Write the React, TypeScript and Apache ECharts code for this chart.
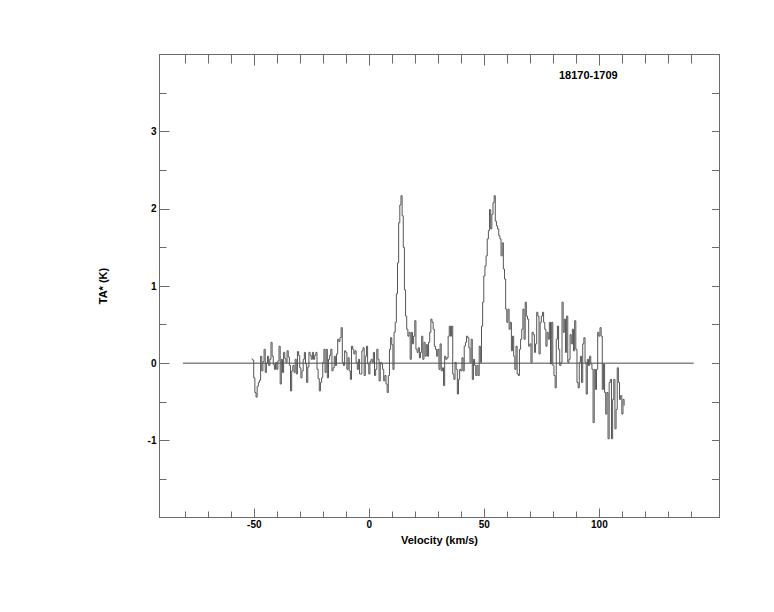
import React, { useEffect, useRef } from "react";
import * as echarts from "echarts";

const SOURCE_NAME = "18170-1709";
const X_NAME = "Velocity (km/s)";
const Y_NAME = "TA* (K)";

// spectrum channels: velocity of first channel and channel width (km/s)
const VELOCITY_START = -51.0;
const CHANNEL_WIDTH = 0.5;

// antenna temperature (K), -51.0 .. -11.5 km/s
const TA_BLUE = [
  0.06, 0.04, -0.19, -0.38, -0.44, -0.3, -0.25, -0.22, 0.09, -0.1, 0.02, 0.18, -0.12, 0.0, 0.09, -0.03, 0.05, 0.27, 0.09, -0.02,
  -0.08, 0.01, -0.08, 0.03, 0.22, -0.27, 0.05, -0.12, 0.14, 0.06, 0.01, 0.16, 0.08, -0.03, -0.36, -0.1, -0.03, -0.12, 0.05, -0.14,
  0.15, 0.1, -0.06, -0.19, -0.1, 0.05, 0.14, -0.01, -0.25, -0.05, 0.14, 0.1, 0.05, 0.14, 0.05, 0.1, 0.14, -0.08, -0.2, -0.36,
  -0.25, -0.19, 0.01, 0.18, -0.12, 0.18, -0.19, 0.05, 0.1, 0.18, -0.1, -0.06, 0.09, -0.03, 0.12, 0.31, 0.28, 0.33, 0.46, 0.01,
];
// -11.0 .. 28.5 km/s
const TA_PEAK1 = [
  -0.03, 0.16, 0.14, -0.08, 0.07, -0.1, -0.21, 0.22, 0.18, 0.12, 0.16, 0.01, -0.08, 0.05, -0.14, -0.14, 0.16, 0.2, -0.16, 0.09,
  0.22, -0.01, -0.14, 0.02, 0.05, 0.01, 0.14, -0.16, -0.08, 0.18, 0.05, -0.23, 0.01, -0.01, -0.08, -0.23, -0.16, -0.27, -0.38, -0.16,
  0.18, 0.33, 0.24, -0.08, 0.4, 0.53, 0.9, 1.3, 1.82, 2.05, 2.17, 1.91, 1.5, 0.95, 0.61, 0.44, 0.35, 0.4, 0.05, 0.4,
  0.25, 0.35, 0.55, 0.18, 0.14, 0.2, 0.07, 0.14, 0.35, 0.05, 0.27, 0.09, 0.24, 0.09, 0.27, 0.4, 0.57, 0.53, 0.44, 0.22,
];
// 29.0 .. 68.5 km/s
const TA_PEAK2 = [
  0.18, 0.09, 0.18, -0.08, 0.25, -0.1, -0.06, -0.29, 0.09, 0.05, 0.07, 0.35, 0.48, 0.35, 0.48, -0.14, -0.21, 0.01, -0.08, -0.4,
  -0.21, -0.08, -0.1, 0.07, -0.1, 0.22, 0.27, 0.35, 0.33, 0.2, 0.01, 0.31, -0.21, 0.05, -0.03, -0.16, -0.03, -0.16, 0.22, 0.01,
  0.48, 0.79, 1.13, 1.26, 1.39, 1.61, 1.72, 1.99, 1.74, 1.93, 2.08, 2.17, 1.84, 1.78, 1.74, 1.65, 1.61, 1.39, 1.56, 1.22,
  1.09, 0.7, 0.53, 0.7, 0.44, 0.53, 0.16, 0.35, 0.09, -0.08, 0.22, -0.14, -0.16, 0.18, 0.31, 0.44, 0.7, 0.31, 0.79, 0.61,
];
// 69.0 .. 111.0 km/s
const TA_RED = [
  0.57, 0.22, 0.25, 0.01, 0.4, 0.37, 0.14, 0.25, 0.66, 0.61, 0.12, 0.53, 0.61, 0.66, 0.53, 0.44, 0.22, 0.4, 0.31, 0.53,
  -0.01, 0.53, -0.03, -0.16, -0.32, 0.31, 0.48, 0.18, -0.03, 0.01, 0.79, 0.4, 0.57, 0.14, 0.61, 0.01, 0.05, 0.37, 0.25, 0.44,
  0.16, 0.55, 0.18, -0.25, -0.32, 0.01, 0.09, -0.25, 0.25, 0.33, 0.01, -0.4, 0.05, -0.03, 0.09, -0.01, -0.08, -0.77, -0.08, -0.34,
  -0.08, 0.4, 0.35, 0.46, 0.35, -0.34, -0.01, -0.38, -0.66, -0.38, -0.98, -0.25, -0.21, -0.98, -0.47, -0.21, -0.85, -0.6, -0.06, -0.25,
  -0.47, -0.42, -0.66, -0.47, -0.55,
];

// zero baseline extent (km/s)
const BASELINE_V = [-81, 141];
const BASELINE_T = [0, 0];

// axes
const X_RANGE = [-91.2, 152.2];
const Y_RANGE = [-2, 4];
const X_MAJOR = [-50, 0, 50, 100];
const X_MINOR = [-80, -70, -60, -40, -30, -20, -10, 10, 20, 30, 40, 60, 70, 80, 90, 110, 120, 130, 140];
const Y_MAJOR = [-1, 0, 1, 2, 3];
const Y_MINOR = [-1.5, -0.5, 0.5, 1.5, 2.5, 3.5];

const AXIS_COLOR = "#6a6a6a";
const FONT = "'Liberation Sans', Arial, Helvetica, sans-serif";

function axisLine(show: boolean) {
  return { show, onZero: false, lineStyle: { color: AXIS_COLOR, width: 1 } };
}

function axisBase(extra: any) {
  return {
    type: "value",
    splitLine: { show: false },
    axisLine: axisLine(false),
    axisLabel: { show: false },
    ...extra,
  };
}

function ticks(values: number[], length: number) {
  return {
    show: true,
    inside: true,
    length,
    customValues: values,
    lineStyle: { color: AXIS_COLOR, width: 1 },
  };
}

export default function App() {
  const ref = useRef<HTMLDivElement>(null);

  useEffect(() => {
    if (!ref.current) return;
    const chart = echarts.init(ref.current, undefined, { renderer: "svg" });

    const spectrum: number[][] = [];
    [...TA_BLUE, ...TA_PEAK1, ...TA_PEAK2, ...TA_RED].forEach((t, i) => {
      spectrum.push([VELOCITY_START + i * CHANNEL_WIDTH, t]);
    });
    const baseline = BASELINE_V.map((v, i) => [v, BASELINE_T[i]]);

    const labelStyle = { fontFamily: FONT, fontWeight: "bold", color: "#000" };
    const xRange = { min: X_RANGE[0], max: X_RANGE[1] };
    const yRange = { min: Y_RANGE[0], max: Y_RANGE[1] };

    chart.setOption({
      animation: false,
      backgroundColor: "#fff",
      title: {
        text: SOURCE_NAME,
        left: 559,
        top: 69,
        padding: 0,
        textStyle: { ...labelStyle, fontSize: 11 },
      },
      grid: { left: 159.5, top: 54.5, width: 560, height: 463 },
      xAxis: [
        axisBase({
          position: "bottom",
          ...xRange,
          axisLine: axisLine(true),
          axisTick: ticks(X_MAJOR, 9),
          axisLabel: { show: true, customValues: X_MAJOR, margin: 2, fontSize: 10, ...labelStyle },
          name: X_NAME,
          nameLocation: "middle",
          nameGap: 7,
          nameTextStyle: { ...labelStyle, fontSize: 11 },
        }),
        axisBase({ position: "bottom", ...xRange, axisTick: ticks(X_MINOR, 6) }),
        axisBase({
          position: "top",
          ...xRange,
          axisLine: axisLine(true),
          axisTick: ticks(X_MAJOR, 11),
        }),
        axisBase({ position: "top", ...xRange, axisTick: ticks(X_MINOR, 9) }),
      ],
      yAxis: [
        axisBase({
          position: "left",
          ...yRange,
          axisLine: axisLine(true),
          axisTick: ticks(Y_MAJOR, 10),
          axisLabel: { show: true, customValues: Y_MAJOR, margin: 3, fontSize: 10, ...labelStyle },
          name: Y_NAME,
          nameLocation: "middle",
          nameGap: 51,
          nameRotate: 90,
          nameTextStyle: { ...labelStyle, fontSize: 11 },
        }),
        axisBase({ position: "left", ...yRange, axisTick: ticks(Y_MINOR, 7) }),
        axisBase({
          position: "right",
          ...yRange,
          axisLine: axisLine(true),
          axisTick: ticks([...Y_MAJOR, ...Y_MINOR], 7.5),
        }),
      ],
      series: [
        {
          type: "line",
          name: "baseline",
          xAxisIndex: 0,
          yAxisIndex: 0,
          data: baseline,
          showSymbol: false,
          symbol: "none",
          lineStyle: { color: "#4a4a4a", width: 1 },
          silent: true,
        },
        {
          type: "line",
          name: SOURCE_NAME,
          xAxisIndex: 0,
          yAxisIndex: 0,
          data: spectrum,
          step: "middle",
          showSymbol: false,
          symbol: "none",
          lineStyle: { color: "#555555", width: 1 },
          silent: true,
        },
      ],
    });

    return () => chart.dispose();
  }, []);

  return (
    <div
      ref={ref}
      style={{ position: "fixed", left: 0, top: 0, width: 774, height: 612, background: "#fff" }}
    />
  );
}
